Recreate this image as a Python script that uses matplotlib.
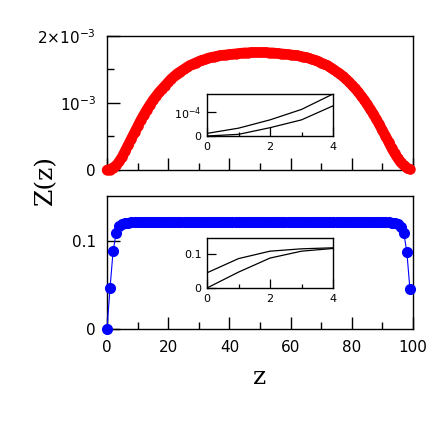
import numpy as np
import matplotlib
matplotlib.use('Agg')
import matplotlib.pyplot as plt
from matplotlib.ticker import FixedLocator, NullFormatter

# top panel, in units of 1e-3: z = 0..49 and z = 99..50 (read from the far end)
top_left = [0.0, 0.007, 0.035, 0.068, 0.127, 0.20, 0.29, 0.38, 0.47, 0.56,
            0.65, 0.74, 0.82, 0.90, 0.97, 1.04, 1.10, 1.16, 1.21, 1.26,
            1.31, 1.36, 1.40, 1.44, 1.47, 1.50, 1.53, 1.56, 1.58, 1.60,
            1.62, 1.64, 1.65, 1.67, 1.68, 1.69, 1.70, 1.71, 1.715, 1.72,
            1.725, 1.73, 1.735, 1.74, 1.745, 1.75, 1.75, 1.755, 1.755, 1.755]
top_right = [0.011, 0.033, 0.068, 0.112, 0.177, 0.25, 0.33, 0.42, 0.51, 0.59,
             0.68, 0.76, 0.84, 0.91, 0.98, 1.05, 1.11, 1.17, 1.22, 1.27,
             1.32, 1.36, 1.40, 1.44, 1.47, 1.50, 1.53, 1.56, 1.58, 1.60,
             1.62, 1.64, 1.65, 1.67, 1.68, 1.69, 1.70, 1.71, 1.715, 1.72,
             1.725, 1.73, 1.735, 1.74, 1.745, 1.75, 1.75, 1.755, 1.755, 1.755]

# bottom panel: z = 0..49 and z = 99..50
bot_left = [0.0, 0.047, 0.0886, 0.109, 0.117, 0.1195, 0.1204, 0.1208, 0.121, 0.1211] + [0.1212] * 40
bot_right = [0.045, 0.087, 0.109, 0.116, 0.119, 0.1202, 0.1207, 0.121, 0.1211, 0.1212] + [0.1212] * 40

z = np.arange(100)
Ztop = np.array(top_left + top_right[::-1]) * 1e-3
Zbot = np.array(bot_left + bot_right[::-1])

plt.rcParams['font.family'] = 'DejaVu Sans'
plt.rcParams['axes.linewidth'] = 1.0

fig = plt.figure(figsize=(4.36, 4.36), dpi=100)
W = 436.0

def px(l, t, r, b):
    return [l / W, 1 - b / W, (r - l) / W, (b - t) / W]

def style(ax, big=True):
    ax.tick_params(which='both', direction='in', top=False, right=False)
    if big:
        ax.tick_params(which='major', length=9, width=1.0, labelsize=11, pad=8)
        ax.tick_params(which='minor', length=5, width=1.0)
    else:
        ax.tick_params(which='major', length=6.5, width=0.9, labelsize=8, pad=4)
        ax.tick_params(which='minor', length=3, width=0.9)

# top
ax1 = fig.add_axes(px(107, 36, 413, 170))
ax1.plot(z, Ztop, '-', color='red', lw=7.5, solid_capstyle='round', solid_joinstyle='round',
         marker='o', ms=6.5, mec='red', mfc='red', clip_on=False, zorder=3)
ax1.set_xlim(0, 100)
ax1.set_ylim(0, 2e-3)
ax1.xaxis.set_major_locator(FixedLocator([0, 20, 40, 60, 80, 100]))
ax1.xaxis.set_minor_locator(FixedLocator([10, 30, 50, 70, 90]))
ax1.xaxis.set_major_formatter(NullFormatter())
ax1.set_yticks([0, 1e-3, 2e-3])
ax1.set_yticklabels(['0', r'$10^{-3}$', r'$2{\times}10^{-3}$'])
ax1.yaxis.set_minor_locator(FixedLocator([0.5e-3, 1.5e-3]))
style(ax1)

# bottom
ax2 = fig.add_axes(px(107, 196, 413, 329))
ax2.plot(z, Zbot, '-', color='blue', lw=0.8, marker='o', ms=7, mec='blue', mfc='blue',
         clip_on=False, zorder=3)
ax2.set_xlim(0, 100)
ax2.set_ylim(0, 0.151)
ax2.xaxis.set_major_locator(FixedLocator([0, 20, 40, 60, 80, 100]))
ax2.xaxis.set_minor_locator(FixedLocator([10, 30, 50, 70, 90]))
ax2.set_yticks([0, 0.1])
ax2.set_yticklabels(['0', '0.1'])
style(ax2)

# insets
n = 5
ins1 = fig.add_axes(px(207, 94, 333, 136))
ins1.plot(z[:n], Ztop[:n], color='black', lw=0.9)
ins1.plot(z[:n], Ztop[::-1][:n], color='black', lw=0.9)
ins1.set_xlim(0, 4)
ins1.set_ylim(0, 1.77e-4)
ins1.set_xticks([0, 2, 4])
ins1.xaxis.set_minor_locator(FixedLocator([1, 3]))
ins1.set_yticks([0, 1e-4])
ins1.set_yticklabels(['0', r'$10^{-4}$'])
style(ins1, big=False)

ins2 = fig.add_axes(px(207, 238, 333, 288))
ins2.plot(z[:n], Zbot[:n], color='black', lw=0.9)
ins2.plot(z[:n], Zbot[::-1][:n], color='black', lw=0.9)
ins2.set_xlim(0, 4)
ins2.set_ylim(0, 0.148)
ins2.set_xticks([0, 2, 4])
ins2.xaxis.set_minor_locator(FixedLocator([1, 3]))
ins2.set_yticks([0, 0.1])
ins2.set_yticklabels(['0', '0.1'])
style(ins2, big=False)

fig.text(46 / W, 1 - 180 / W, 'Z(z)', rotation=90, ha='center', va='center',
         fontsize=18, family='DejaVu Serif')
fig.text(260 / W, 1 - 377 / W, 'z', ha='center', va='center',
         fontsize=18, family='DejaVu Serif')

fig.savefig('out.png', dpi=100)
